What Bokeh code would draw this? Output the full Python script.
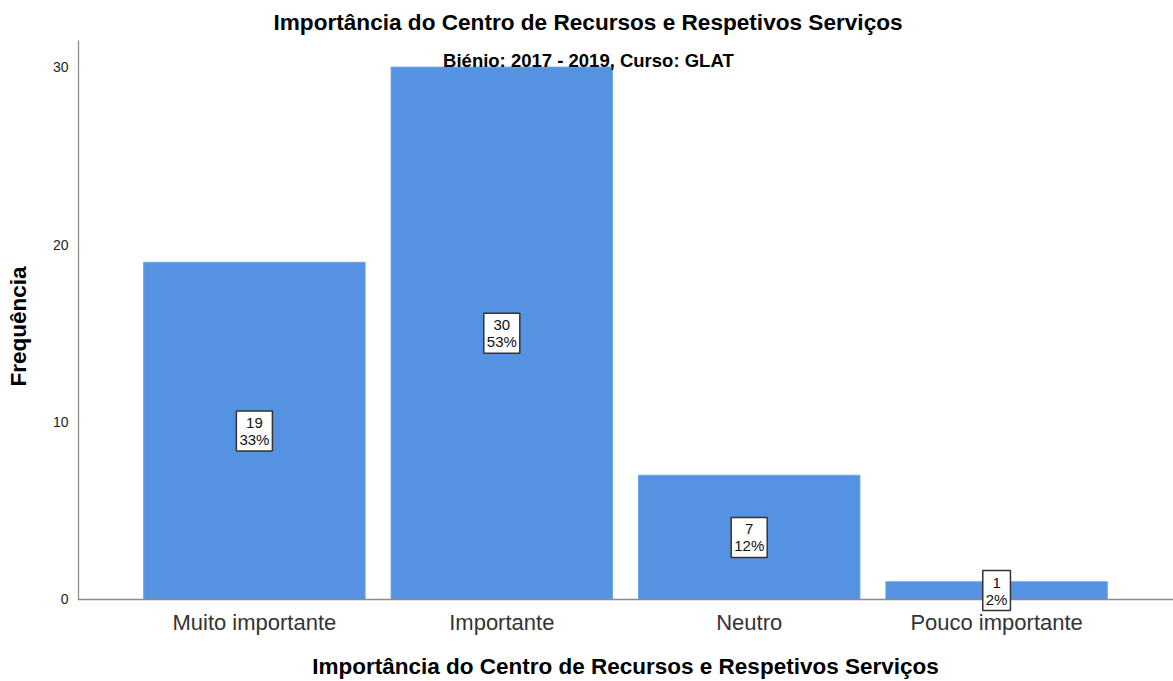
from bokeh.plotting import figure
from bokeh.models import FactorRange, Range1d, ColumnDataSource, Label, FixedTicker, Span, BoxAnnotation
from bokeh.embed import file_html
from bokeh.resources import INLINE

categories = ["Muito importante", "Importante", "Neutro", "Pouco importante"]
counts = [19, 30, 7, 1]
percents = ["33%", "53%", "12%", "2%"]
y_ticks = [0, 10, 20, 30]

title_text = "Importância do Centro de Recursos e Respetivos Serviços"
subtitle_text = "Biénio: 2017 - 2019, Curso: GLAT"
x_label = "Importância do Centro de Recursos e Respetivos Serviços"
y_label = "Frequência"

FONT = "Liberation Sans"
BAR = "#5593e2"
AXIS = "#8c8c8c"

Y_MIN, Y_MAX = -0.733, 31.5
PAD = 0.1075  # factor range padding (fraction of the 4 factors)
X_START = -PAD * len(categories) / 2

src = ColumnDataSource(dict(cat=categories, count=counts))

p = figure(
    width=1173, height=681,
    x_range=FactorRange(*categories, range_padding=PAD),
    y_range=Range1d(Y_MIN, Y_MAX),
    output_backend="svg", toolbar_location=None,
    min_border_left=77, min_border_right=0, min_border_top=40, min_border_bottom=69,
)
p.outline_line_color = None
p.xgrid.grid_line_color = None
p.ygrid.grid_line_color = None

p.title.text = title_text
p.title.text_font = FONT
p.title.text_font_size = "22.6px"
p.title.text_font_style = "bold"
p.title.text_color = "black"
p.title.align = "left"
p.title.offset = 196
p.title.standoff = 12

p.vbar(x="cat", top="count", bottom=0, width=0.895, source=src,
       fill_color=BAR, line_color="#6aa3e8", line_width=1)

# axis lines: x baseline at 0, y axis line from 0 to top
p.add_layout(Span(location=0, dimension="width", line_color=AXIS, line_width=1.5))
p.add_layout(BoxAnnotation(left=X_START + 0.002, right=X_START + 0.006, bottom=0, top=Y_MAX,
                           fill_color=AXIS, fill_alpha=1, line_color=AXIS, line_width=1))

# value boxes; FactorRange places the i-th factor at synthetic coordinate i + 0.5
for i, (c, pct) in enumerate(zip(counts, percents)):
    p.add_layout(Label(x=i + 0.5, y=c / 2, text=f"{c}\n{pct}",
                       text_font=FONT, text_font_size="15px", text_color="#111111",
                       text_align="center", text_baseline="middle", text_line_height=1.0,
                       background_fill_color="white", border_line_color="#333333",
                       border_line_width=1.5, padding=3))

# axes
p.yaxis.ticker = FixedTicker(ticks=y_ticks)
for ax in (p.xaxis[0], p.yaxis[0]):
    ax.axis_line_color = None
    ax.major_tick_line_color = None
    ax.minor_tick_line_color = None
    ax.major_tick_out = 0
    ax.major_tick_in = 0
    ax.major_label_text_font = FONT
    ax.axis_label_text_font = FONT
    ax.axis_label_text_font_style = "bold"
    ax.axis_label_text_color = "black"
    ax.axis_label_text_font_size = "22.5px"

p.yaxis.major_label_text_font_size = "14px"
p.yaxis.major_label_text_color = "#222222"
p.yaxis.major_label_standoff = 9
p.yaxis.axis_label = y_label
p.yaxis.axis_label_standoff = 19

p.xaxis.major_label_text_font_size = "22px"
p.xaxis.major_label_text_color = "#333333"
p.xaxis.major_label_standoff = -3
p.xaxis.axis_label = x_label
p.xaxis.axis_label_standoff = 16

p.add_layout(Label(x=1.85, y=30.4, text=subtitle_text, text_font=FONT,
                   text_font_size="18.5px", text_font_style="bold",
                   text_align="center", text_baseline="middle", text_color="black"))

open("out.html", "w").write(file_html(p, INLINE))
